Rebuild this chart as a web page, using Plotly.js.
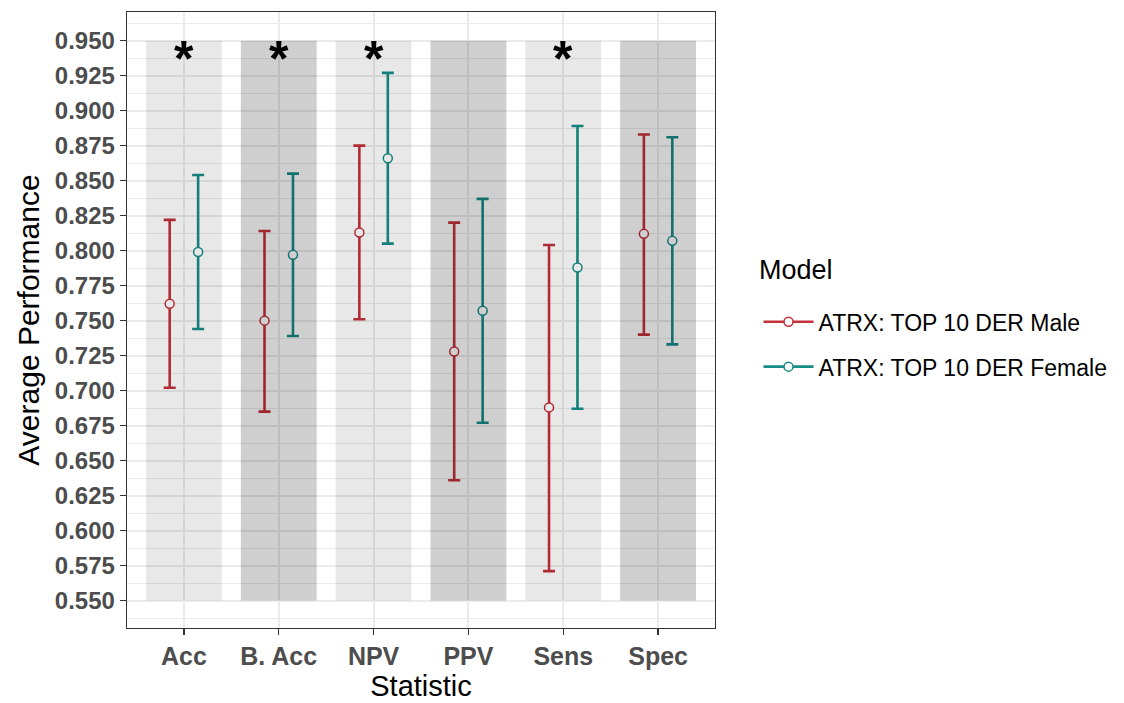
<!DOCTYPE html>
<html><head><meta charset="utf-8">
<script src="https://cdn.plot.ly/plotly-3.0.1.min.js"></script>
<style>html,body{margin:0;padding:0;background:#fff}#chart{width:1124px;height:703px}</style>
</head><body><div id="chart"></div>
<script>
const categories = ['Acc', 'B. Acc', 'NPV', 'PPV', 'Sens', 'Spec'];
const maleMean   = [0.762, 0.750, 0.813, 0.728, 0.688, 0.812];
const maleLow    = [0.702, 0.685, 0.751, 0.636, 0.571, 0.740];
const maleHigh   = [0.822, 0.814, 0.875, 0.820, 0.804, 0.883];
const femaleMean = [0.799, 0.797, 0.866, 0.757, 0.788, 0.807];
const femaleLow  = [0.744, 0.739, 0.805, 0.677, 0.687, 0.733];
const femaleHigh = [0.854, 0.855, 0.927, 0.837, 0.889, 0.881];
const significant = [true, true, true, false, true, false];
const bandShade  = ['light', 'dark', 'light', 'dark', 'light', 'dark'];
const bandBottom = 0.55;
const bandTop = 0.95;
const seriesNames = ['ATRX: TOP 10 DER Male', 'ATRX: TOP 10 DER Female'];
const legendTitle = 'Model';

const FONT = 'Liberation Sans, Arial, sans-serif';
const MALE = '#C3303A';
const FEMALE = '#178C87';
const idx = categories.map((c, i) => i + 1);
const dodge = 0.15;

function errTrace(mean, low, high, color, off) {
  return {
    type: 'scatter', mode: 'markers',
    x: idx.map(v => v + off), y: mean,
    error_y: {type: 'data', symmetric: false,
      array: high.map((h, i) => h - mean[i]),
      arrayminus: mean.map((m, i) => m - low[i]),
      color: color, thickness: 2.6, width: 6},
    marker: {symbol: 'circle', size: 9, color: '#ffffff', line: {color: color, width: 1.5}},
    showlegend: false, hoverinfo: 'skip'
  };
}
function legendTrace(name, color, grp) {
  return {type: 'scatter', mode: 'lines+markers', x: [null], y: [null], name: name,
    legendgroup: grp, line: {color: color, width: 2.6},
    marker: {symbol: 'circle', size: 9, color: '#ffffff', line: {color: color, width: 1.5}}};
}

const traces = [
  errTrace(maleMean, maleLow, maleHigh, MALE, -dodge),
  errTrace(femaleMean, femaleLow, femaleHigh, FEMALE, dodge),
  legendTrace(seriesNames[0], MALE, 'm'),
  legendTrace(seriesNames[1], FEMALE, 'f')
];

const shapes = idx.map((v, i) => ({
  type: 'rect', xref: 'x', yref: 'y', x0: v - 0.4, x1: v + 0.4, y0: bandBottom, y1: bandTop,
  fillcolor: bandShade[i] === 'light' ? 'rgba(0,0,0,0.09)' : 'rgba(0,0,0,0.19)',
  line: {width: 0}, layer: 'above'
}));

const annotations = [];
significant.forEach((s, i) => {
  if (s) annotations.push({x: idx[i], y: bandTop, xref: 'x', yref: 'y', text: '*',
    showarrow: false, yanchor: 'top', yshift: 12,
    font: {family: FONT, size: 50, color: '#000', weight: 'bold'}});
});
annotations.push({x: 1.071, y: 0.581, xref: 'paper', yref: 'paper', xanchor: 'left', yanchor: 'middle',
  text: legendTitle, showarrow: false, font: {family: FONT, size: 27, color: '#000'}});

const layout = {
  width: 1124, height: 703,
  margin: {l: 127, r: 409, t: 12, b: 75},
  paper_bgcolor: '#ffffff', plot_bgcolor: '#ffffff',
  font: {family: FONT, color: '#000'},
  xaxis: {
    range: [0.4, 6.6], tickvals: idx, ticktext: categories,
    showgrid: true, gridcolor: '#ebebeb', gridwidth: 2, zeroline: false,
    showline: true, mirror: true, linecolor: '#333333', linewidth: 1.3,
    ticks: 'outside', ticklen: 6, tickcolor: '#333333', tickwidth: 1.3,
    tickfont: {family: FONT, size: 25, color: '#4d4d4d', weight: 'bold'},
    title: {text: 'Statistic', font: {family: FONT, size: 29, color: '#000'}, standoff: 6}
  },
  yaxis: {
    range: [0.5304, 0.9705], tick0: 0.55, dtick: 0.025, tickformat: '.3f',
    showgrid: true, gridcolor: '#ebebeb', gridwidth: 2, zeroline: false,
    minor: {tick0: 0.5375, dtick: 0.025, showgrid: true, gridcolor: '#ebebeb', gridwidth: 1},
    showline: true, mirror: true, linecolor: '#333333', linewidth: 1.3,
    ticks: 'outside', ticklen: 6, tickcolor: '#333333', tickwidth: 1.3,
    tickfont: {family: FONT, size: 24, color: '#4d4d4d', weight: 'bold'},
    title: {text: 'Average Performance', font: {family: FONT, size: 30, color: '#000'}, standoff: 6}
  },
  showlegend: true,
  legend: {
    x: 1.074, xanchor: 'left', y: 0.532, yanchor: 'top',
    font: {family: FONT, size: 23, color: '#000'}, itemwidth: 50,
    tracegroupgap: 12, traceorder: 'grouped', bgcolor: 'rgba(0,0,0,0)'
  },
  shapes: shapes,
  annotations: annotations
};

Plotly.newPlot('chart', traces, layout, {displayModeBar: false, staticPlot: true});
</script>
</body></html>
